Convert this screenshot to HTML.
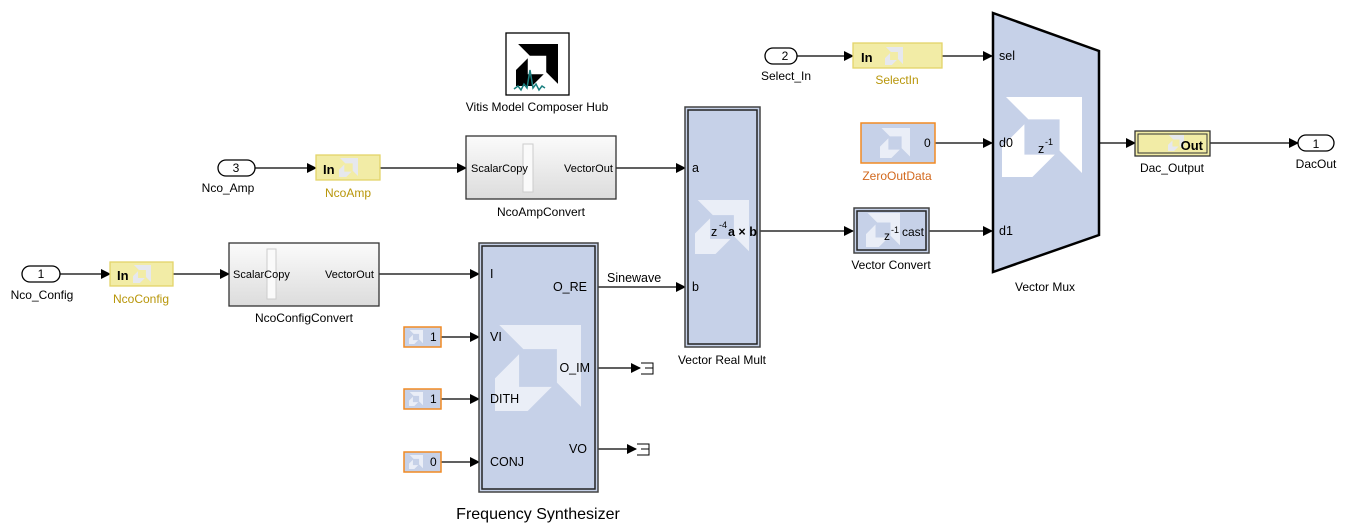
<!DOCTYPE html>
<html><head><meta charset="utf-8"><style>
html,body{margin:0;padding:0;background:#fff;}
svg{display:block;font-family:"Liberation Sans",sans-serif;}
</style></head><body>
<svg width="1354" height="532" viewBox="0 0 1354 532" xmlns="http://www.w3.org/2000/svg">
<defs>
<marker id="ar" markerWidth="10" markerHeight="10" refX="9" refY="5" orient="auto" markerUnits="userSpaceOnUse">
<path d="M0,0 L10,5 L0,10 Z" fill="#000"/></marker>
<g id="logo">
<polygon points="0.05,0 1,0 1,0.95 0.72,0.67 0.72,0.28 0.33,0.28"/>
<polygon points="0,0.62 0.28,0.34 0.28,0.72 0.66,0.72 0.38,1 0,1"/>
</g>
<linearGradient id="gr" x1="0" y1="0" x2="0" y2="1"><stop offset="0" stop-color="#fbfbfb"/><stop offset="1" stop-color="#dcdcdc"/></linearGradient>
</defs>

<g stroke="#000" stroke-width="1.2" fill="none" marker-end="url(#ar)">
<line x1="255" y1="168" x2="316" y2="168"/>
<line x1="380" y1="168" x2="466" y2="168"/>
<line x1="616" y1="168" x2="685" y2="168"/>
<line x1="60" y1="274" x2="110" y2="274"/>
<line x1="173" y1="274" x2="229" y2="274"/>
<line x1="379" y1="274" x2="479" y2="274"/>
<line x1="598" y1="287" x2="685" y2="287"/>
<line x1="441" y1="337" x2="479" y2="337"/>
<line x1="441" y1="399" x2="479" y2="399"/>
<line x1="441" y1="462" x2="479" y2="462"/>
<line x1="598" y1="368" x2="640" y2="368"/>
<line x1="598" y1="449" x2="636" y2="449"/>
<line x1="760" y1="231" x2="853" y2="231"/>
<line x1="929" y1="231" x2="992" y2="231"/>
<line x1="935" y1="143" x2="992" y2="143"/>
<line x1="797" y1="56" x2="853" y2="56"/>
<line x1="942" y1="56" x2="992" y2="56"/>
<line x1="1099" y1="143" x2="1135" y2="143"/>
<line x1="1210" y1="143" x2="1298" y2="143"/>
</g>
<!-- terminators -->
<path d="M641,363 H653 V374 H641 M645,368 H653" stroke="#000" fill="none"/>
<path d="M637,444 H649 V455 H637 M641,449 H649" stroke="#000" fill="none"/>

<!-- pills -->
<g fill="#fff" stroke="#000" stroke-width="1.3">
<rect x="218" y="160" width="37" height="16" rx="8"/>
<rect x="22" y="266" width="38" height="16" rx="8"/>
<rect x="765" y="48" width="32" height="16" rx="8"/>
<rect x="1298" y="135" width="36" height="16" rx="8"/>
</g>
<g font-size="12" text-anchor="middle" fill="#000">
<text x="236" y="172">3</text><text x="41" y="278">1</text><text x="785" y="60">2</text><text x="1316" y="148">1</text>
<text x="228" y="192">Nco_Amp</text><text x="42" y="299">Nco_Config</text><text x="786" y="80">Select_In</text><text x="1316" y="168">DacOut</text>
</g>

<!-- In gateways -->
<g>
<rect x="316" y="155" width="64" height="25" fill="#f2eca6" stroke="#e3d46a" stroke-width="1.3"/>
<g transform="translate(339,158) scale(19)" fill="#e6e8ee"><use href="#logo"/></g>
<text x="323" y="174" font-size="13" font-weight="bold">In</text>
<text x="348" y="197" font-size="12" fill="#b8960a" text-anchor="middle">NcoAmp</text>

<rect x="110" y="262" width="63" height="24" fill="#f2eca6" stroke="#e3d46a" stroke-width="1.3"/>
<g transform="translate(133,265) scale(18)" fill="#e6e8ee"><use href="#logo"/></g>
<text x="117" y="280" font-size="13" font-weight="bold">In</text>
<text x="141" y="303" font-size="12" fill="#b8960a" text-anchor="middle">NcoConfig</text>

<rect x="853" y="43" width="89" height="25" fill="#f2eca6" stroke="#e3d46a" stroke-width="1.3"/>
<g transform="translate(885,47) scale(18)" fill="#e6e8ee"><use href="#logo"/></g>
<text x="861" y="62" font-size="13" font-weight="bold">In</text>
<text x="897" y="84" font-size="12" fill="#b8960a" text-anchor="middle">SelectIn</text>
</g>

<!-- Hub -->
<rect x="506" y="33" width="63" height="62" fill="#fff" stroke="#000" stroke-width="1.3"/>
<g transform="translate(516,44) scale(42)" fill="#000"><use href="#logo"/></g>
<path d="M514,89 L518,86 L521,90 L524,84 L527,88 L530,70 L533,88 L536,84 L539,90 L542,86 L545,88" stroke="#1a8080" stroke-width="1.5" fill="none"/>
<text x="537" y="111" font-size="12" text-anchor="middle">Vitis Model Composer Hub</text>

<!-- Convert subsystems -->
<g font-size="11">
<rect x="466" y="136" width="150" height="63" fill="url(#gr)" stroke="#333" stroke-width="1.3"/>
<rect x="523" y="144" width="10" height="48" fill="#fafafa" stroke="#ccc"/>
<text x="471" y="172">ScalarCopy</text><text x="564" y="172">VectorOut</text>
<text x="541" y="216" font-size="12" text-anchor="middle">NcoAmpConvert</text>

<rect x="229" y="243" width="150" height="63" fill="url(#gr)" stroke="#333" stroke-width="1.3"/>
<rect x="267" y="249" width="9" height="50" fill="#fafafa" stroke="#ccc"/>
<text x="233" y="278">ScalarCopy</text><text x="325" y="278">VectorOut</text>
<text x="304" y="322" font-size="12" text-anchor="middle">NcoConfigConvert</text>
</g>

<!-- Frequency Synthesizer -->
<rect x="479" y="243" width="119" height="249" fill="#c6d1e8" stroke="#444" stroke-width="1.5"/>
<rect x="482" y="246" width="113" height="243" fill="none" stroke="#222" stroke-width="1.5"/>
<g transform="translate(495,325) scale(86)" fill="#eaeef7"><use href="#logo"/></g>
<g font-size="12.5">
<text x="490" y="278">I</text><text x="490" y="341">VI</text><text x="490" y="403">DITH</text><text x="490" y="466">CONJ</text>
<text x="587" y="291" text-anchor="end">O_RE</text><text x="590" y="372" text-anchor="end">O_IM</text><text x="587" y="453" text-anchor="end">VO</text>
<text x="607" y="282">Sinewave</text>
</g>
<text x="538" y="519" font-size="16" text-anchor="middle">Frequency Synthesizer</text>

<!-- constants -->
<g font-size="12">
<rect x="404" y="327" width="37" height="20" fill="#c6d1e8" stroke="#f08a24" stroke-width="1.5"/>
<g transform="translate(409,330) scale(14)" fill="#eaeef7"><use href="#logo"/></g><text x="430" y="341">1</text>
<rect x="404" y="389" width="37" height="20" fill="#c6d1e8" stroke="#f08a24" stroke-width="1.5"/>
<g transform="translate(409,392) scale(14)" fill="#eaeef7"><use href="#logo"/></g><text x="430" y="403">1</text>
<rect x="404" y="452" width="37" height="20" fill="#c6d1e8" stroke="#f08a24" stroke-width="1.5"/>
<g transform="translate(409,455) scale(14)" fill="#eaeef7"><use href="#logo"/></g><text x="430" y="466">0</text>
</g>

<!-- Vector Real Mult -->
<rect x="685" y="107" width="75" height="240" fill="#c6d1e8" stroke="#444" stroke-width="1.5"/>
<rect x="688" y="110" width="69" height="234" fill="none" stroke="#222" stroke-width="1.5"/>
<g transform="translate(695,200) scale(54)" fill="#eaeef7"><use href="#logo"/></g>
<g font-size="12.5"><text x="692" y="172">a</text><text x="692" y="291">b</text>
<text x="711" y="236">z</text><text x="719" y="228" font-size="9">-4</text><text x="728" y="236" font-weight="bold">a × b</text></g>
<text x="722" y="364" font-size="12" text-anchor="middle">Vector Real Mult</text>

<!-- ZeroOutData -->
<rect x="861" y="123" width="74" height="40" fill="#c6d1e8" stroke="#f08a24" stroke-width="1.5"/>
<g transform="translate(880,128) scale(30)" fill="#eaeef7"><use href="#logo"/></g>
<text x="924" y="147" font-size="12">0</text>
<text x="897" y="180" font-size="12" fill="#d2691e" text-anchor="middle">ZeroOutData</text>

<!-- Vector Convert -->
<rect x="854" y="208" width="75" height="45" fill="#c6d1e8" stroke="#444" stroke-width="1.5"/>
<rect x="857" y="211" width="69" height="39" fill="none" stroke="#222" stroke-width="1.5"/>
<g transform="translate(866,213) scale(34)" fill="#eaeef7"><use href="#logo"/></g>
<text x="884" y="240" font-size="12">z</text><text x="891" y="233" font-size="9">-1</text><text x="902" y="236" font-size="12">cast</text>
<text x="891" y="269" font-size="12" text-anchor="middle">Vector Convert</text>

<!-- Vector Mux -->
<polygon points="993,13 1099,51 1099,235 993,272" fill="#c6d1e8" stroke="#000" stroke-width="2.5"/>
<g transform="translate(1002,97) scale(80)" fill="#fff"><use href="#logo"/></g>
<rect x="1025" y="135" width="30" height="30" fill="#c6d1e8" opacity="0"/>
<g font-size="12.5"><text x="999" y="60">sel</text><text x="999" y="147">d0</text><text x="999" y="235">d1</text>
<text x="1038" y="153">z</text><text x="1045" y="145" font-size="9">-1</text></g>
<text x="1045" y="291" font-size="12" text-anchor="middle">Vector Mux</text>

<!-- Dac_Output -->
<rect x="1135" y="131" width="75" height="25" fill="#f2eca6" stroke="#333" stroke-width="1.3"/>
<rect x="1138" y="134" width="69" height="19" fill="none" stroke="#333" stroke-width="1"/>
<g transform="translate(1168,135) scale(16)" fill="#e6e8ee"><use href="#logo"/></g>
<text x="1203" y="150" font-size="13" font-weight="bold" text-anchor="end">Out</text>
<text x="1172" y="172" font-size="12" text-anchor="middle">Dac_Output</text>
</svg>
</body></html>
